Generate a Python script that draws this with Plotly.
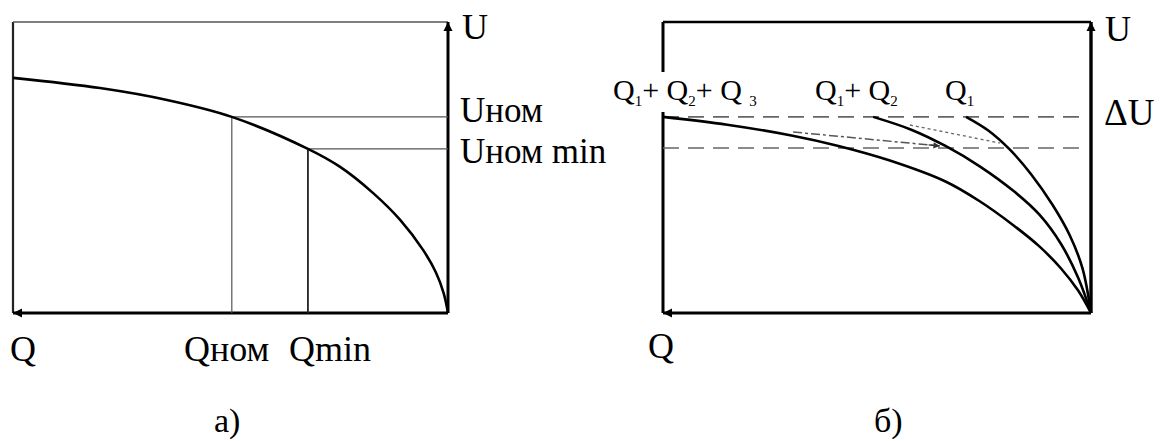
import plotly.graph_objects as go

W, H = 1168, 441
FONT = "Liberation Serif, Times New Roman, DejaVu Serif, serif"

# ---- panel а): voltage characteristic U(Q) of a single node ----
q_a = [10.0, 8.0, 6.46, 4.97, 3.22, 2.48, 1.72, 1.10, 0.57, 0.28, 0.10, 0.0]
u_a = [8.08, 7.73, 7.32, 6.74, 5.64, 5.02, 4.12, 3.20, 2.16, 1.40, 0.68, 0.0]
q_nom, u_nom = 4.97, 6.74
q_min, u_min = 3.22, 5.64

# ---- panel б): characteristics for Q1+Q2+Q3, Q1+Q2 and Q1 ----
q_123 = [10.0, 8.5, 7.0, 5.9, 4.7, 3.4, 2.6, 1.8, 1.2, 0.7, 0.3, 0.0]
u_123 = [6.74, 6.47, 6.10, 5.74, 5.24, 4.52, 3.84, 3.00, 2.28, 1.53, 0.77, 0.0]
q_12 = [5.09, 4.2, 3.4, 2.6, 1.8, 1.2, 0.7, 0.3, 0.0]
u_12 = [6.74, 6.30, 5.74, 5.04, 4.18, 3.37, 2.37, 1.21, 0.0]
q_1 = [2.92, 2.4, 1.9, 1.4, 0.9, 0.5, 0.2, 0.0]
u_1 = [6.74, 6.27, 5.62, 4.77, 3.72, 2.68, 1.54, 0.0]
du_top, du_bottom = 6.74, 5.67
# transition paths between characteristics
q_path1 = [6.96, 3.53]
u_path1 = [6.22, 5.74]
q_path2 = [4.23, 2.13]
u_path2 = [6.46, 5.84]

Q_MAX, U_MAX = 10.0, 10.0
PAD = 0.2  # extra axis room so frame lines are not clipped

# pixel frames of the two panels (left, right, top, bottom)
frames = {"a": (13, 448, 22, 313), "b": (663, 1091, 22, 313)}


def domains(frame):
    l, r, t, b = frame
    ppx = (r - l) / Q_MAX
    ppy = (b - t) / U_MAX
    xd = [(l - PAD * ppx) / W, (r + PAD * ppx) / W]
    yd = [1 - (b + PAD * ppy) / H, 1 - (t - PAD * ppy) / H]
    return xd, yd


fig = go.Figure()


def line(x, y, xa, ya, width=2.2, color="black", dash="solid", shape="linear"):
    fig.add_trace(go.Scatter(
        x=x, y=y, xaxis=xa, yaxis=ya, mode="lines",
        line=dict(color=color, width=width, dash=dash, shape=shape, smoothing=1.0),
        hoverinfo="skip", showlegend=False))


# panel а) frame
line([Q_MAX, Q_MAX], [0, U_MAX], "x", "y", width=2.2, color="#222")
line([Q_MAX, 0], [U_MAX, U_MAX], "x", "y", width=1.6, color="#555")
line([0, 0], [0, U_MAX], "x", "y", width=3.0)
line([0, Q_MAX], [0, 0], "x", "y", width=3.0)
# reference levels
line([q_nom, 0], [u_nom, u_nom], "x", "y", width=1.2, color="#555")
line([q_nom, q_nom], [u_nom, 0], "x", "y", width=1.2, color="#555")
line([q_min, 0], [u_min, u_min], "x", "y", width=1.2, color="#555")
line([q_min, q_min], [u_min, 0], "x", "y", width=1.8, color="#222")
# characteristic
line(q_a, u_a, "x", "y", width=2.6, shape="spline")

# panel б) frame (left side broken by the label)
line([Q_MAX, 0], [U_MAX, U_MAX], "x2", "y2", width=2.6)
line([Q_MAX, Q_MAX], [U_MAX, 8.28], "x2", "y2", width=3.0)
line([Q_MAX, Q_MAX], [6.91, 0], "x2", "y2", width=3.0)
line([0, 0], [0, U_MAX], "x2", "y2", width=3.4)
line([0, Q_MAX], [0, 0], "x2", "y2", width=3.0)
# ΔU band
line([Q_MAX, 0.19], [du_top, du_top], "x2", "y2", width=1.6, color="#666", dash="16px,9px")
line([Q_MAX, 0.19], [du_bottom, du_bottom], "x2", "y2", width=1.6, color="#666", dash="16px,9px")
# transitions
line(q_path1, u_path1, "x2", "y2", width=1.5, color="#555", dash="dashdot")
line(q_path2, u_path2, "x2", "y2", width=1.3, color="#666", dash="dot")
# characteristics
line(q_123, u_123, "x2", "y2", width=2.6, shape="spline")
line(q_12, u_12, "x2", "y2", width=2.6, shape="spline")
line(q_1, u_1, "x2", "y2", width=2.6, shape="spline")

xa, ya = domains(frames["a"])
xb, yb = domains(frames["b"])
ax_common = dict(visible=False, fixedrange=True)
fig.update_layout(
    xaxis=dict(domain=xa, range=[Q_MAX + PAD, -PAD], anchor="y", **ax_common),
    yaxis=dict(domain=ya, range=[-PAD, U_MAX + PAD], anchor="x", **ax_common),
    xaxis2=dict(domain=xb, range=[Q_MAX + PAD, -PAD], anchor="y2", **ax_common),
    yaxis2=dict(domain=yb, range=[-PAD, U_MAX + PAD], anchor="x2", **ax_common),
)

annotations = []
# axis arrowheads
for xr, yr in (("x", "y"), ("x2", "y2")):
    annotations.append(dict(x=0, y=U_MAX, ax=0, ay=U_MAX - 0.6, xref=xr, yref=yr,
                            axref=xr, ayref=yr, showarrow=True, arrowhead=2,
                            arrowsize=0.9, arrowwidth=2, arrowcolor="black", text=""))
    annotations.append(dict(x=Q_MAX, y=0, ax=Q_MAX - 0.5, ay=0, xref=xr, yref=yr,
                            axref=xr, ayref=yr, showarrow=True, arrowhead=2,
                            arrowsize=0.9, arrowwidth=2, arrowcolor="black", text=""))
# small arrowhead at the end of the transition Q1+Q2+Q3 -> Q1+Q2
annotations.append(dict(x=q_path1[1], y=u_path1[1], ax=q_path1[1] + 0.3, ay=u_path1[1] + 0.04,
                        xref="x2", yref="y2", axref="x2", ayref="y2", showarrow=True,
                        arrowhead=2, arrowsize=1, arrowwidth=1.3, arrowcolor="#333", text=""))


def label(text, px, py, size=35, xanchor="left"):
    annotations.append(dict(text=text, x=px / W, y=1 - py / H, xref="paper", yref="paper",
                            xanchor=xanchor, yanchor="middle", showarrow=False,
                            font=dict(family=FONT, size=size, color="black")))


SUB = '<sub><span style="font-size:15px">{}</span></sub>'

label("U", 460, 27, size=36)
label("Uном", 458, 110)
label("Uном min", 458, 151)
label("Q", 8, 349, size=36)
label("Qном", 182, 349, size=36)
label("Qmin", 287, 349, size=36)
label("а)", 227, 421, size=34, xanchor="center")

label("U", 1103, 29, size=36)
label("ΔU", 1102, 112, size=37)
label("Q" + SUB.format(1) + "+ Q" + SUB.format(2) + "+ Q " + SUB.format(3), 611, 91, size=30)
label("Q" + SUB.format(1) + "+ Q" + SUB.format(2), 813, 91, size=30)
label("Q" + SUB.format(1), 943, 91, size=30)
label("Q", 646, 346, size=36)
label("б)", 888, 421, size=34, xanchor="center")

fig.update_layout(
    width=W, height=H, margin=dict(l=0, r=0, t=0, b=0),
    paper_bgcolor="white", plot_bgcolor="white",
    annotations=annotations, showlegend=False,
)

fig.write_html("out.html")
